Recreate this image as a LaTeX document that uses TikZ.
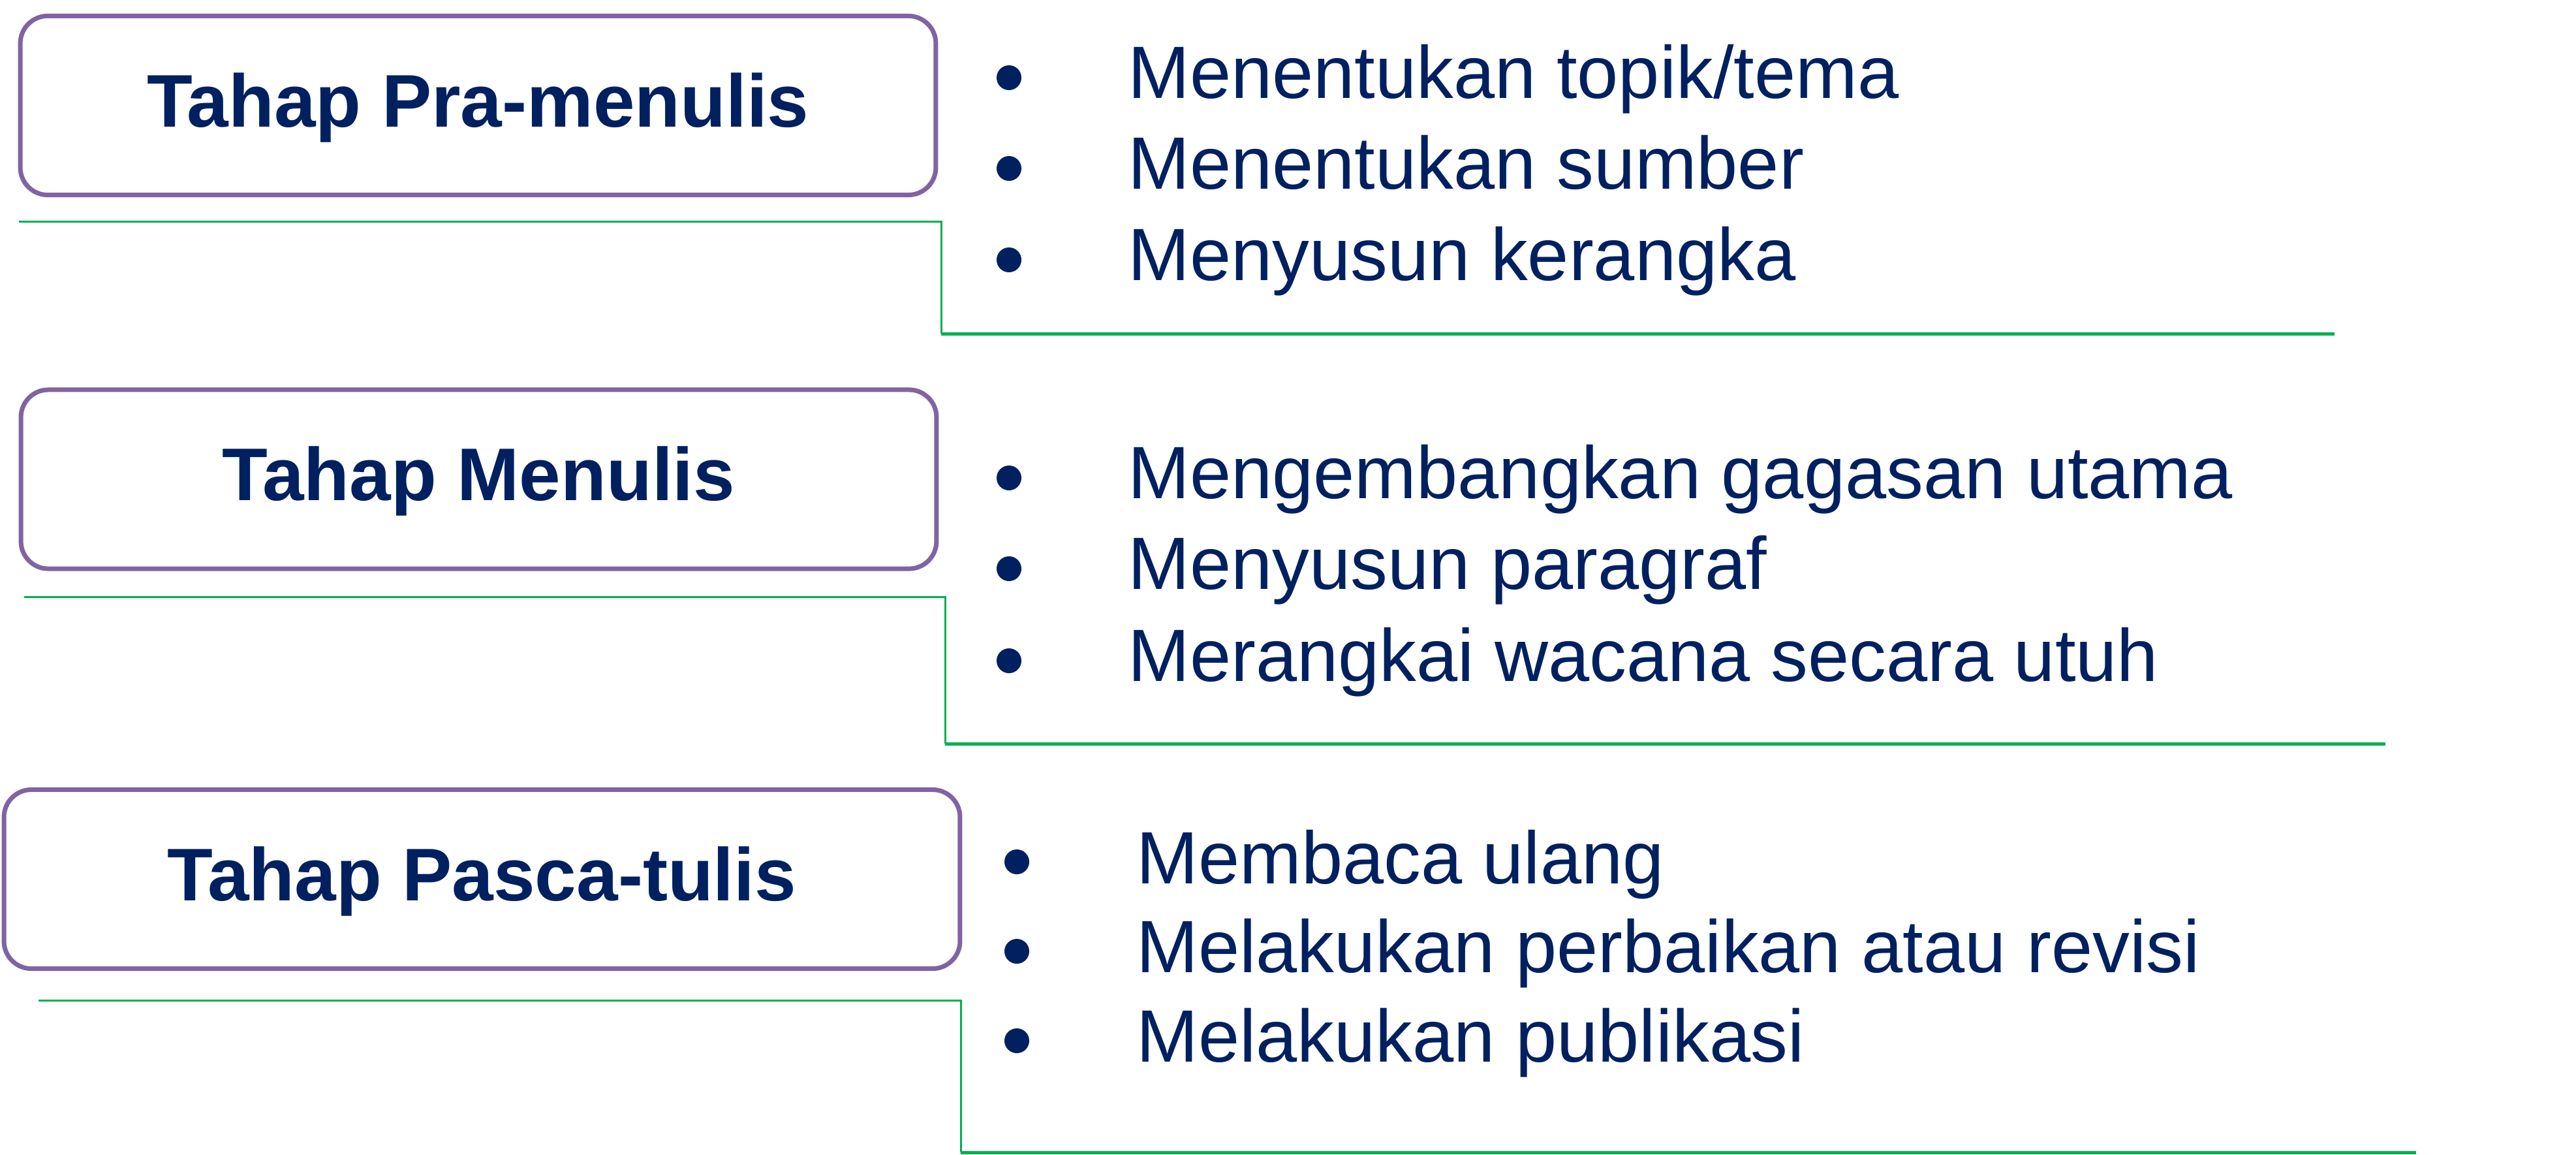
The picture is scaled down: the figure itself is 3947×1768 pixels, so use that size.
\documentclass[tikz,border=0pt]{standalone}
\usepackage{fontspec}
\setmainfont{Liberation Sans}
\definecolor{tinta}{HTML}{002060}
\definecolor{ungu}{HTML}{8064A2}
\definecolor{hijau}{HTML}{00B050}

\tikzset{
    tahap/.style={draw=ungu, line width=0.07cm, rounded corners=0.42cm, minimum width=14.02cm, minimum height=2.74cm, text height=0.8cm, text depth=0.15cm, text=tinta, font=\fontsize{32.5}{38}\selectfont\bfseries},
    butir/.style={anchor=base west, inner sep=0pt, text=tinta, font=\fontsize{32.3}{38}\selectfont},
    titik/.style={circle, fill=tinta, inner sep=0pt, minimum size=0.38cm},
    garis/.style={draw=hijau, line width=0.03cm},
    garistebal/.style={draw=hijau, line width=0.05cm}
}

\begin{document}
\begin{tikzpicture}[x=0.01cm, y=-0.01cm]
    \useasboundingbox (0,0) rectangle (3947,1768);
    \path node[tahap] (pra) at (732.5,161.5) {Tahap Pra-menulis}
        node[tahap] (menulis) at (733.5,734) {Tahap Menulis}
        node[tahap, minimum width=14.64cm] (pasca) at (738.5,1346.5) {Tahap Pasca-tulis};
    \path node[titik] (t11) at (1546,119) {}
        node[titik] (t12) at (1546,258) {}
        node[titik] (t13) at (1546,398) {}
        node[butir] (b11) at (1728,150) {Menentukan topik/tema}
        node[butir] (b12) at (1728,289) {Menentukan sumber}
        node[butir] (b13) at (1728,429) {Menyusun kerangka};
    \path node[titik] (t21) at (1546,732) {}
        node[titik] (t22) at (1546,871) {}
        node[titik] (t23) at (1546,1012) {}
        node[butir] (b21) at (1728,763) {Mengembangkan gagasan utama}
        node[butir] (b22) at (1728,902) {Menyusun paragraf}
        node[butir] (b23) at (1728,1043) {Merangkai wacana secara utuh};
    \path node[titik] (t31) at (1558,1320) {}
        node[titik] (t32) at (1558,1457) {}
        node[titik] (t33) at (1558,1594) {}
        node[butir] (b31) at (1741,1353) {Membaca ulang}
        node[butir] (b32) at (1741,1489) {Melakukan perbaikan atau revisi}
        node[butir] (b33) at (1741,1626) {Melakukan publikasi};
    \coordinate (g1a) at (29,339);
    \coordinate (g1k) at (1442,511);
    \coordinate (g1b) at (3577,511);
    \coordinate (g2a) at (37,914);
    \coordinate (g2k) at (1448,1139);
    \coordinate (g2b) at (3655,1139);
    \coordinate (g3a) at (59,1532);
    \coordinate (g3k) at (1472,1765);
    \coordinate (g3b) at (3702,1765);
    \draw[garis] (g1a) -| (g1k);
    \draw[garistebal] (g1k) -- (g1b);
    \draw[garis] (g2a) -| (g2k);
    \draw[garistebal] (g2k) -- (g2b);
    \draw[garis] (g3a) -| (g3k);
    \draw[garistebal] (g3k) -- (g3b);
\end{tikzpicture}
\end{document}
